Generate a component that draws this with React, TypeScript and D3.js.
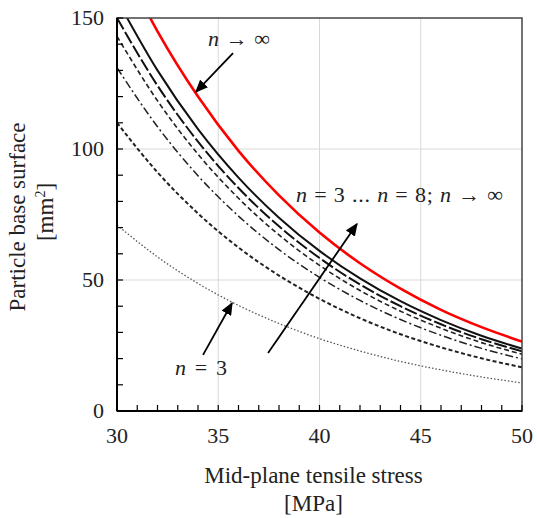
import React from "react";
import * as d3 from "d3";

const stress = [30, 32, 34, 36, 38, 40, 42, 44, 46, 48, 50];
const n3 = [71, 58.8, 48.7, 40.3, 33.4, 27.6, 22.9, 18.9, 15.7, 13.0, 10.7];
const n4 = [110, 91.1, 75.4, 62.4, 51.7, 42.8, 35.4, 29.3, 24.3, 20.1, 16.7];
const n5 = [131, 108.5, 89.8, 74.4, 61.6, 51.0, 42.2, 34.9, 28.9, 23.9, 19.9];
const n6 = [143, 118.4, 98.0, 81.2, 67.2, 55.6, 46.0, 38.1, 31.6, 26.1, 21.7];
const n7 = [150, 124.2, 102.8, 85.1, 70.5, 58.4, 48.3, 40.0, 33.1, 27.4, 22.8];
const n8 = [157, 130.0, 107.6, 89.1, 73.8, 61.1, 50.6, 41.9, 34.7, 28.7, 23.8];
const nInf = [175, 144.9, 120.0, 99.3, 82.3, 68.1, 56.4, 46.7, 38.6, 32.0, 26.5];

const xTicks = [30, 35, 40, 45, 50];
const yTicks = [0, 50, 100, 150];

const series = [
  { name: "n=3", values: n3, color: "#555", width: 1.3, dash: "1.5 2" },
  { name: "n=4", values: n4, color: "#222", width: 2, dash: "4 2.5" },
  { name: "n=5", values: n5, color: "#222", width: 1.5, dash: "8 3 2 3" },
  { name: "n=6", values: n6, color: "#222", width: 1.6, dash: "5 3" },
  { name: "n=7", values: n7, color: "#111", width: 2, dash: "13 3" },
  { name: "n=8", values: n8, color: "#111", width: 2, dash: "" },
  { name: "n=inf", values: nInf, color: "#ff0000", width: 2.6, dash: "" },
];

const L = 117, R = 522, T = 18, B = 411;
const FONT = "'Liberation Serif', 'DejaVu Serif', 'Times New Roman', serif";

export default function App() {
  const x = d3.scaleLinear().domain([30, 50]).range([L, R]);
  const y = d3.scaleLinear().domain([0, 150]).range([B, T]);
  const line = d3
    .line<number>()
    .x((_, i) => x(stress[i]))
    .y((d) => y(d))
    .curve(d3.curveMonotoneX);

  const minorX = d3.range(30, 51, 1);
  const minorY = d3.range(0, 151, 10);

  const arrows = [
    { x1: 35.73, y1: 136.6, x2: 33.9, y2: 121.8 },
    { x1: 37.46, y1: 22.1, x2: 41.85, y2: 71.4 },
    { x1: 34.25, y1: 21.4, x2: 35.68, y2: 41.2 },
  ];

  const fs = 22;
  return (
    <svg
      width={537}
      height={518}
      style={{ position: "absolute", left: 0, top: 0, background: "#fff" }}
      fontFamily={FONT}
    >
      <defs>
        <clipPath id="plot">
          <rect x={L} y={T} width={R - L} height={B - T} />
        </clipPath>
        <marker id="ah" viewBox="0 0 10 10" refX="9" refY="5" markerWidth="13" markerHeight="11" orient="auto" markerUnits="userSpaceOnUse" preserveAspectRatio="none">
          <path d="M0,0 L10,5 L0,10 Z" fill="#000" />
        </marker>
      </defs>
      <rect x={0} y={0} width={537} height={518} fill="#fff" />
      {xTicks.slice(1, -1).map((t) => (
        <line key={"gx" + t} x1={x(t)} x2={x(t)} y1={T} y2={B} stroke="#d9d9d9" strokeWidth={1} />
      ))}
      {yTicks.slice(1, -1).map((t) => (
        <line key={"gy" + t} x1={L} x2={R} y1={y(t)} y2={y(t)} stroke="#d9d9d9" strokeWidth={1} />
      ))}
      <g clipPath="url(#plot)">
        {series.map((s) => (
          <path
            key={s.name}
            d={line(s.values) || ""}
            fill="none"
            stroke={s.color}
            strokeWidth={s.width}
            strokeDasharray={s.dash || undefined}
          />
        ))}
      </g>
      <rect x={L} y={T} width={R - L} height={B - T} fill="none" stroke="#444" strokeWidth={1.5} />
      <line x1={L} x2={L} y1={T} y2={B} stroke="#000" strokeWidth={2} />
      <line x1={L} x2={R} y1={B} y2={B} stroke="#000" strokeWidth={2} />
      {minorX.map((t) => (
        <line key={"tx" + t} x1={x(t)} x2={x(t)} y1={B} y2={B - 6} stroke="#000" strokeWidth={1.2} />
      ))}
      {minorY.map((t) => (
        <line key={"ty" + t} x1={L} x2={L + 6} y1={y(t)} y2={y(t)} stroke="#000" strokeWidth={1.2} />
      ))}
      {xTicks.map((t) => (
        <text key={"lx" + t} x={x(t)} y={443} textAnchor="middle" fontSize={fs} fill="#222">
          {t}
        </text>
      ))}
      {yTicks.map((t) => (
        <text key={"ly" + t} x={104} y={y(t) + 7} textAnchor="end" fontSize={fs} fill="#222">
          {t}
        </text>
      ))}
      <text x={(L + R) / 2 - 6} y={483} textAnchor="middle" fontSize={23} fill="#222">
        Mid-plane tensile stress
      </text>
      <text x={(L + R) / 2 - 6} y={511} textAnchor="middle" fontSize={23} fill="#222">
        [MPa]
      </text>
      <text transform="translate(25,217) rotate(-90)" textAnchor="middle" fontSize={23} fill="#222">
        Particle base surface
      </text>
      <text transform="translate(53,212) rotate(-90)" textAnchor="middle" fontSize={23} fill="#222">
        [mm<tspan fontSize={14} dy={-8}>2</tspan><tspan dy={8}>]</tspan>
      </text>
      {arrows.map((a, i) => (
        <line key={"ar" + i} x1={x(a.x1)} y1={y(a.y1)} x2={x(a.x2)} y2={y(a.y2)} stroke="#000" strokeWidth={1.8} markerEnd="url(#ah)" />
      ))}
      <text x={208} y={y(139.3)} fontSize={22} fill="#222" textLength={62} lengthAdjust="spacing">
        <tspan fontStyle="italic">n</tspan> → ∞
      </text>
      <text x={296} y={y(79.8)} fontSize={22} fill="#222" textLength={207} lengthAdjust="spacing">
        <tspan fontStyle="italic">n</tspan> = 3 ... <tspan fontStyle="italic">n</tspan> = 8; <tspan fontStyle="italic">n</tspan> → ∞
      </text>
      <text x={175} y={375} fontSize={22} fill="#222" textLength={52} lengthAdjust="spacing">
        <tspan fontStyle="italic">n</tspan> = 3
      </text>
    </svg>
  );
}
